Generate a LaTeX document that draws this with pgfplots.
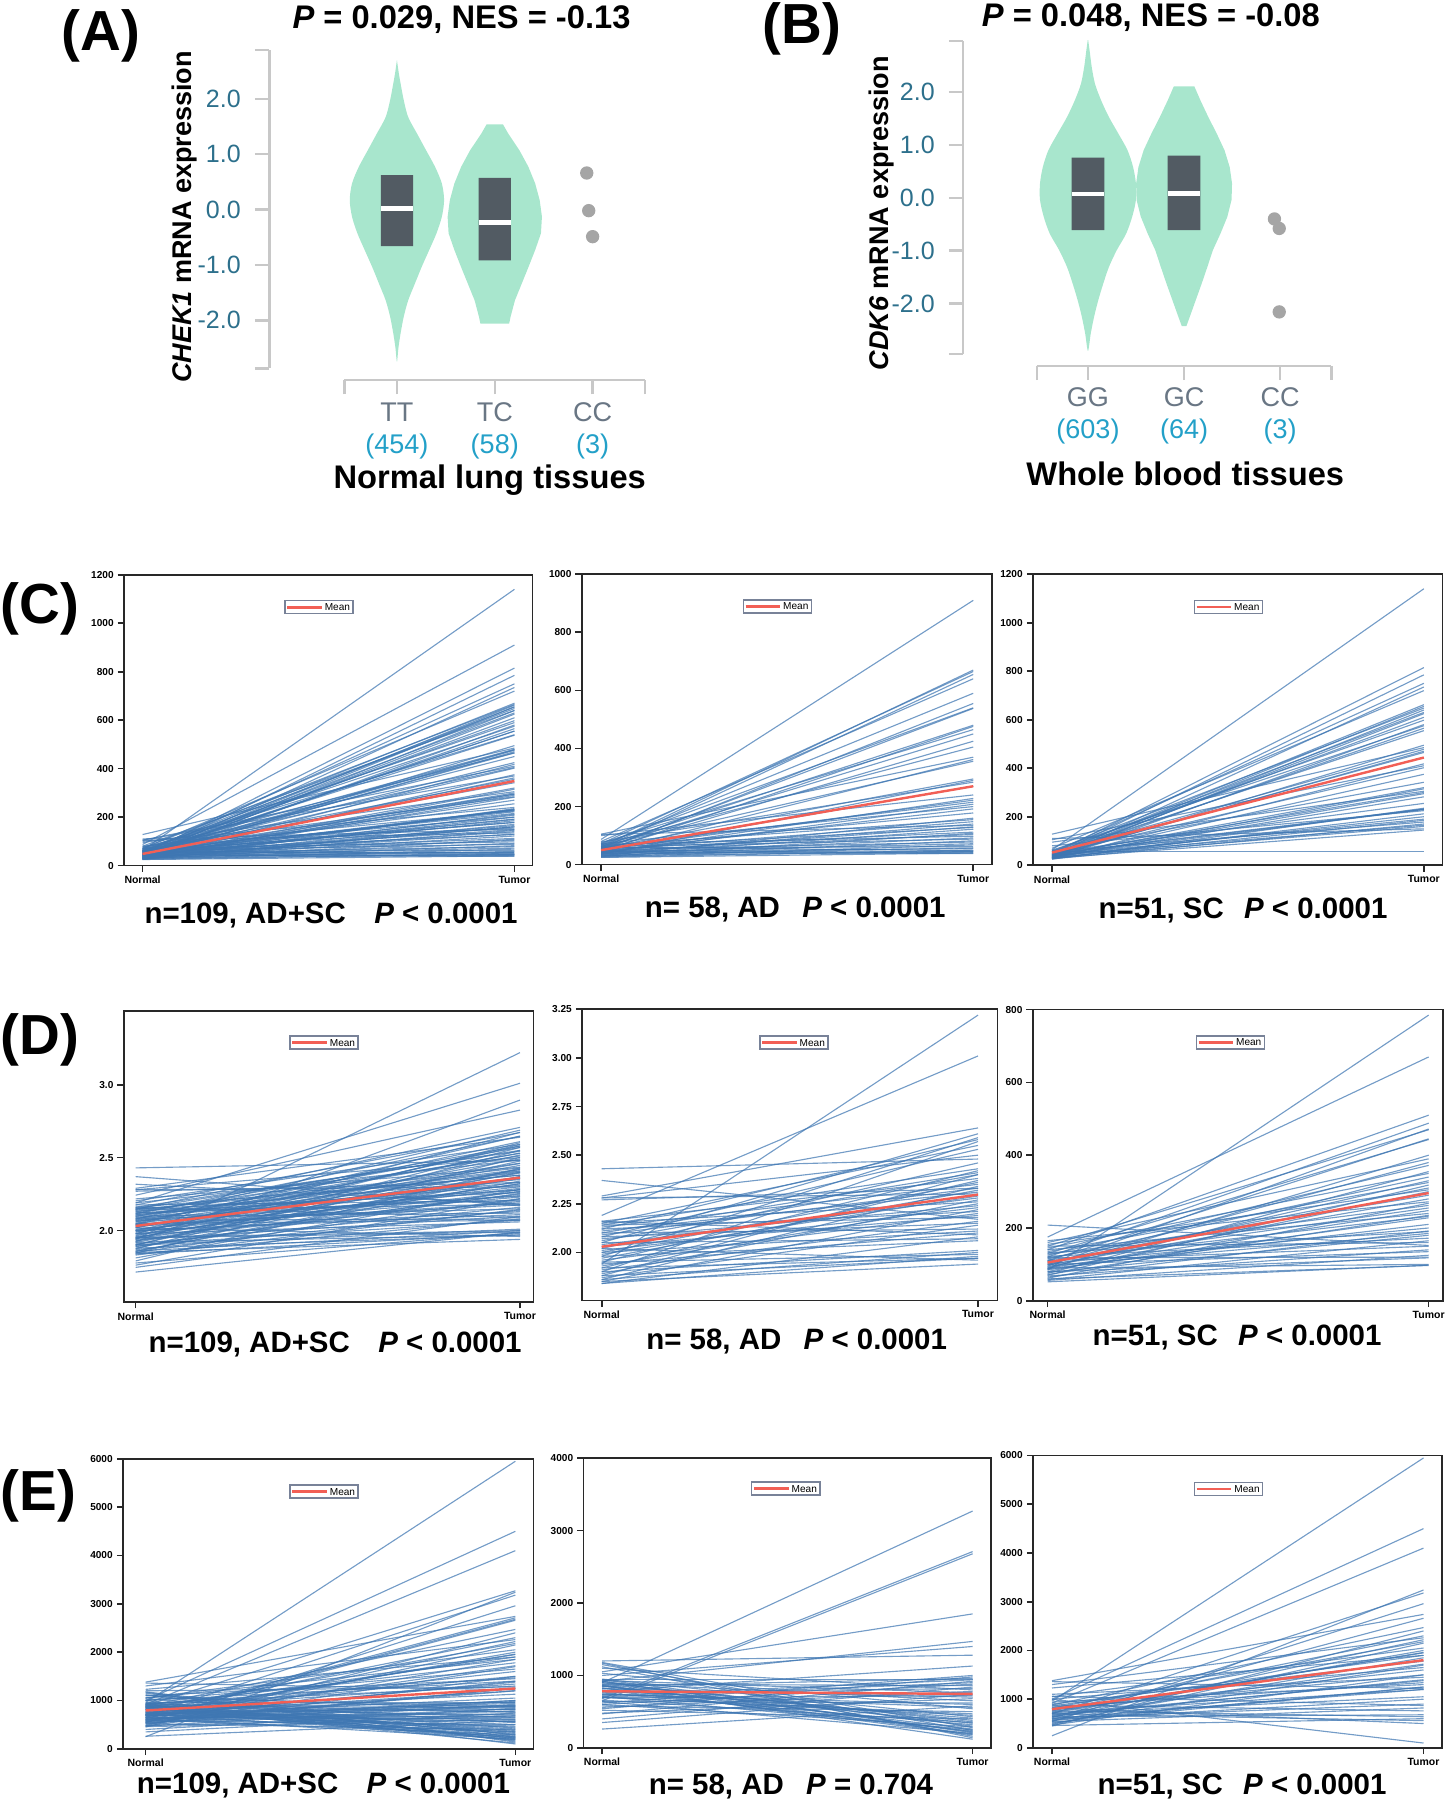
\documentclass[border=0pt]{standalone}
\usepackage{fontspec}
\setmainfont{Liberation Sans}
\usepackage{pgfplots}
\pgfplotsset{compat=1.18}
\usepackage{pgfplotstable}

\definecolor{mint}{RGB}{168,230,205}
\definecolor{boxc}{RGB}{82,91,99}
\definecolor{axisg}{RGB}{200,200,200}
\definecolor{tealc}{RGB}{45,112,140}
\definecolor{catg}{RGB}{105,118,132}
\definecolor{cntc}{RGB}{35,160,200}
\definecolor{dotg}{RGB}{165,165,165}
\definecolor{linec}{RGB}{62,118,178}
\definecolor{meanc}{RGB}{242,95,85}
\definecolor{frameg}{RGB}{40,40,40}
\definecolor{legg}{RGB}{120,130,152}

% ---------------- data: CHEK1 (C) ----------------
\pgfplotstableread{
n t
87 910
60 670
72 665
55 655
80 640
66 590
48 555
70 540
52 538
62 480
45 476
75 465
58 450
50 425
68 405
105 370
42 362
64 356
56 295
35 290
78 284
47 270
100 240
40 228
53 222
61 215
38 208
72 200
44 192
57 178
30 160
65 155
49 148
36 140
104 135
41 130
59 128
33 122
54 112
28 108
46 104
70 98
37 92
62 88
30 82
51 78
43 72
27 68
58 62
34 58
45 55
26 50
60 48
39 45
31 45
48 42
25 40
42 38
}\tabCad
\pgfplotstableread{
n t
63 1140
45 815
38 785
52 750
30 735
70 720
42 662
35 655
58 648
28 640
48 630
33 625
40 610
55 598
26 580
62 575
37 565
44 555
30 495
128 485
50 478
36 470
41 465
27 418
105 410
46 402
32 375
60 342
39 320
29 315
95 305
43 300
34 295
31 282
53 255
25 235
47 232
38 230
80 225
28 212
35 200
42 190
30 185
57 178
26 170
40 165
33 160
110 150
29 145
45 230
55 55
}\tabCsc
% ---------------- data: (D) ----------------
\pgfplotstableread{
n t
1.94 3.22
2.19 3.01
2.29 2.64
2.05 2.61
1.98 2.59
2.12 2.58
1.90 2.57
2.15 2.55
2.08 2.53
2.28 2.50
2.43 2.48
2.02 2.46
2.14 2.43
1.95 2.42
2.10 2.41
1.88 2.40
2.06 2.40
2.16 2.38
1.92 2.37
2.00 2.36
2.13 2.35
1.86 2.34
2.09 2.33
2.27 2.33
1.97 2.32
2.11 2.31
2.28 2.30
1.99 2.29
2.04 2.28
1.89 2.27
2.15 2.26
1.93 2.25
2.07 2.24
2.01 2.23
1.85 2.22
2.12 2.21
1.96 2.20
2.03 2.19
2.14 2.18
2.37 2.17
1.91 2.16
2.08 2.15
1.87 2.14
2.10 2.12
2.00 2.11
1.94 2.10
2.16 2.09
1.84 2.08
2.05 2.07
1.98 2.06
1.90 2.01
1.86 2.00
1.95 1.99
1.84 1.98
1.92 1.97
1.88 1.97
2.02 1.96
1.85 1.94
}\tabDad
\pgfplotstableread{
n t
84 785
175 670
140 510
120 488
95 472
150 470
110 445
130 443
88 400
160 390
100 380
125 372
75 355
145 350
115 340
92 330
135 325
70 318
105 310
155 305
80 300
118 290
98 280
165 272
62 268
128 262
108 255
90 248
140 240
72 235
112 232
85 228
88 210
102 200
65 192
132 190
95 185
78 180
122 172
58 165
150 160
208 152
110 150
68 140
100 135
56 125
118 120
80 118
90 100
52 98
60 97
}\tabDsc
% ---------------- data: (E) ----------------
\pgfplotstableread{
n t
900 3270
680 2710
650 2680
1050 1850
920 1470
1000 1400
1200 1280
780 1130
620 1000
540 980
850 960
950 950
720 940
470 920
700 900
600 880
880 860
400 840
760 820
1100 800
560 780
930 760
350 740
690 720
820 700
480 680
900 650
640 620
740 600
260 580
740 560
1030 540
580 500
700 470
700 450
950 430
820 410
520 400
880 380
900 360
660 350
850 340
760 320
940 300
600 290
1180 280
860 260
710 250
1150 240
800 230
920 220
920 210
640 200
870 190
830 180
1120 160
1170 140
860 120
}\tabEad
\pgfplotstableread{
n t
960 5950
1000 4500
920 4100
250 3240
700 3180
540 2960
1380 2740
620 2660
880 2470
450 2400
760 2300
1300 2260
590 2220
820 2180
480 2150
1050 2050
660 2000
720 1960
1230 1900
560 1850
900 1780
640 1720
780 1600
470 1500
1100 1450
680 1380
840 1340
520 1250
1360 1220
600 1200
740 1950
860 1900
500 1700
1000 1650
700 1050
580 1000
800 1500
650 1400
940 1300
560 1250
720 1200
610 900
1060 870
540 820
880 760
640 680
760 640
460 600
700 560
820 500
1000 100
}\tabEsc

\pgfplotsset{
  violin/.style={scale only axis, anchor=south west,
    axis x line*=bottom, axis y line*=left,
    axis line style={-, draw=axisg, line width=0.6pt},
    tick style={draw=axisg, line width=0.6pt},
    tick align=outside, major tick length=0.125cm,
    yticklabel style={font=\fontsize{6.2}{7}\selectfont, text=tealc},
    xticklabel style={font=\fontsize{6.7}{8}\selectfont, text=catg, align=center},
  },
  pair/.style={scale only axis, anchor=north west,
    axis line style={draw=frameg, line width=0.4pt},
    tick style={draw=frameg, line width=0.4pt},
    tick align=outside, tick pos=left, major tick length=0.055cm,
    xtick={0,1}, xticklabels={Normal,Tumor},
    scaled ticks=false,
    yticklabel style={font=\fontsize{2.5}{3}\selectfont\bfseries, inner sep=0.8pt},
    xticklabel style={font=\fontsize{2.6}{3}\selectfont\bfseries, inner sep=0.8pt},
    legend style={anchor=north west, draw=legg, line width=0.35pt, inner sep=0.3pt,
      font=\fontsize{2.5}{2.8}\selectfont, cells={anchor=west},
      nodes={inner sep=0.45pt, text depth=0pt}},
    legend image code/.code={\draw[##1] (0cm,0cm) -- (0.30cm,0cm);},
  },
  ln/.style={forget plot, no markers, draw=linec, draw opacity=0.72, line width=0.28pt},
  mn/.style={no markers, draw=meanc, line width=0.6pt},
}

\newcommand{\capfont}{\fontsize{7.3}{8.5}\selectfont\bfseries}

\begin{document}
\begin{tikzpicture}
\useasboundingbox (0,0) rectangle (12.60cm,-15.68cm);

% ---------------- panel labels and titles ----------------
\node[anchor=base west, font=\fontsize{14}{16}\selectfont\bfseries, inner sep=0pt] at (0.53cm,-0.436cm) {(A)};
\node[anchor=base west, font=\fontsize{14}{16}\selectfont\bfseries, inner sep=0pt] at (6.639cm,-0.38cm) {(B)};
\node[anchor=base west, font=\fontsize{14}{16}\selectfont\bfseries, inner sep=0pt] at (0cm,-5.43cm) {(C)};
\node[anchor=base west, font=\fontsize{14}{16}\selectfont\bfseries, inner sep=0pt] at (0cm,-9.19cm) {(D)};
\node[anchor=base west, font=\fontsize{14}{16}\selectfont\bfseries, inner sep=0pt] at (0cm,-13.16cm) {(E)};

\node[anchor=base, font=\fontsize{8.1}{9}\selectfont\bfseries, inner sep=0pt] at (4.02cm,-0.247cm) {\textit{P} = 0.029, NES = -0.13};
\node[anchor=base, font=\fontsize{8.1}{9}\selectfont\bfseries, inner sep=0pt] at (10.025cm,-0.227cm) {\textit{P} = 0.048, NES = -0.08};
\node[rotate=90, anchor=base, font=\fontsize{6.7}{8}\selectfont\bfseries, inner sep=0pt] at (1.67cm,-1.89cm) {\textit{CHEK1} mRNA expression};
\node[rotate=90, anchor=base, font=\fontsize{6.7}{8}\selectfont\bfseries, inner sep=0pt] at (7.74cm,-1.858cm) {\textit{CDK6} mRNA expression};
\node[anchor=base, font=\fontsize{8.1}{9}\selectfont\bfseries, inner sep=0pt] at (4.266cm,-4.255cm) {Normal lung tissues};
\node[anchor=base, font=\fontsize{8.1}{9}\selectfont\bfseries, inner sep=0pt] at (10.325cm,-4.225cm) {Whole blood tissues};

% ---------------- (A) violin ----------------
\begin{axis}[violin, at={(3.00cm,-3.21cm)}, width=2.62cm, height=2.774cm,
  xmin=-0.537, xmax=2.537, ymin=-2.87, ymax=2.88,
  x axis line style={yshift=-0.10cm}, xtick style={yshift=-0.10cm}, xticklabel style={yshift=-0.05cm},
  y axis line style={xshift=-0.654cm}, ytick style={xshift=-0.654cm}, yticklabel style={xshift=-0.654cm},
  xtick={-0.537,0,1,2,2.537},
  xticklabels={,{TT\\\textcolor{cntc}{(454)}},{TC\\\textcolor{cntc}{(58)}},{CC\\\textcolor{cntc}{(3)}},},
  ytick={-2.87,-2,-1,0,1,2,2.88}, yticklabels={,-2.0,-1.0,0.0,1.0,2.0,}]
\addplot[fill=mint, draw=none, smooth, tension=0.5] coordinates {
(0,2.70) (0.020,2.45) (0.037,2.28) (0.069,1.98) (0.115,1.67) (0.206,1.37) (0.298,1.07) (0.390,0.77) (0.459,0.47) (0.482,0.17) (0.459,-0.13) (0.404,-0.43) (0.330,-0.73) (0.252,-1.04) (0.183,-1.34) (0.115,-1.64) (0.069,-1.94) (0.037,-2.24) (0.015,-2.50) (0,-2.75)
(-0.015,-2.50) (-0.037,-2.24) (-0.069,-1.94) (-0.115,-1.64) (-0.183,-1.34) (-0.252,-1.04) (-0.330,-0.73) (-0.404,-0.43) (-0.459,-0.13) (-0.482,0.17) (-0.459,0.47) (-0.390,0.77) (-0.298,1.07) (-0.206,1.37) (-0.115,1.67) (-0.069,1.98) (-0.037,2.28) (-0.020,2.45) (0,2.70)};
\addplot[fill=mint, draw=none] coordinates {
(1.083,1.54) (1.138,1.37) (1.252,1.07) (1.344,0.77) (1.413,0.47) (1.459,0.17) (1.482,-0.13) (1.472,-0.43) (1.413,-0.73) (1.344,-1.04) (1.275,-1.34) (1.206,-1.64) (1.161,-1.94) (1.147,-2.06)
(0.853,-2.06) (0.839,-1.94) (0.794,-1.64) (0.725,-1.34) (0.656,-1.04) (0.587,-0.73) (0.528,-0.43) (0.518,-0.13) (0.541,0.17) (0.587,0.47) (0.656,0.77) (0.748,1.07) (0.862,1.37) (0.917,1.54) (1.083,1.54)};
\addplot[fill=boxc, draw=none] coordinates {(-0.165,-0.66) (0.165,-0.66) (0.165,0.62) (-0.165,0.62) (-0.165,-0.66)};
\addplot[fill=boxc, draw=none] coordinates {(0.835,-0.92) (1.165,-0.92) (1.165,0.57) (0.835,0.57) (0.835,-0.92)};
\addplot[white, line width=1.1pt] coordinates {(-0.165,0.02) (0.165,0.02)};
\addplot[white, line width=1.1pt] coordinates {(0.835,-0.23) (1.165,-0.23)};
\addplot[only marks, mark=*, mark size=1.45pt, color=dotg] coordinates {(1.94,0.66) (1.96,-0.02) (2.0,-0.49)};
\end{axis}

% ---------------- (B) violin ----------------
\begin{axis}[violin, at={(9.031cm,-3.085cm)}, width=2.567cm, height=2.728cm,
  xmin=-0.533, xmax=2.533, ymin=-2.96, ymax=2.97,
  x axis line style={yshift=-0.102cm}, xtick style={yshift=-0.102cm}, xticklabel style={yshift=-0.04cm},
  y axis line style={xshift=-0.64cm}, ytick style={xshift=-0.64cm}, yticklabel style={xshift=-0.64cm},
  xtick={-0.533,0,1,2,2.533},
  xticklabels={,{GG\\\textcolor{cntc}{(603)}},{GC\\\textcolor{cntc}{(64)}},{CC\\\textcolor{cntc}{(3)}},},
  ytick={-2.96,-2,-1,0,1,2,2.97}, yticklabels={,-2.0,-1.0,0.0,1.0,2.0,}]
\addplot[fill=mint, draw=none, smooth, tension=0.5] coordinates {
(0,3.02) (0.020,2.75) (0.039,2.48) (0.073,2.16) (0.136,1.85) (0.218,1.53) (0.315,1.22) (0.412,0.90) (0.470,0.58) (0.499,0.27) (0.499,-0.04) (0.460,-0.36) (0.397,-0.68) (0.300,-0.99) (0.218,-1.31) (0.160,-1.62) (0.107,-1.94) (0.063,-2.26) (0.029,-2.57) (0,-2.90)
(-0.029,-2.57) (-0.063,-2.26) (-0.107,-1.94) (-0.160,-1.62) (-0.218,-1.31) (-0.300,-0.99) (-0.397,-0.68) (-0.460,-0.36) (-0.499,-0.04) (-0.499,0.27) (-0.470,0.58) (-0.412,0.90) (-0.315,1.22) (-0.218,1.53) (-0.136,1.85) (-0.073,2.16) (-0.039,2.48) (-0.020,2.75) (0,3.02)};
\addplot[fill=mint, draw=none] coordinates {
(1.107,2.11) (1.169,1.85) (1.252,1.53) (1.339,1.22) (1.421,0.90) (1.475,0.58) (1.499,0.27) (1.494,-0.04) (1.450,-0.36) (1.378,-0.68) (1.300,-0.99) (1.242,-1.31) (1.184,-1.62) (1.121,-1.94) (1.058,-2.26) (1.024,-2.43)
(0.976,-2.43) (0.942,-2.26) (0.879,-1.94) (0.816,-1.62) (0.758,-1.31) (0.700,-0.99) (0.622,-0.68) (0.550,-0.36) (0.506,-0.04) (0.501,0.27) (0.525,0.58) (0.579,0.90) (0.661,1.22) (0.748,1.53) (0.831,1.85) (0.893,2.11) (1.107,2.11)};
\addplot[fill=boxc, draw=none] coordinates {(-0.17,-0.61) (0.17,-0.61) (0.17,0.76) (-0.17,0.76) (-0.17,-0.61)};
\addplot[fill=boxc, draw=none] coordinates {(0.83,-0.61) (1.17,-0.61) (1.17,0.80) (0.83,0.80) (0.83,-0.61)};
\addplot[white, line width=1.1pt] coordinates {(-0.17,0.07) (0.17,0.07)};
\addplot[white, line width=1.1pt] coordinates {(0.83,0.08) (1.17,0.08)};
\addplot[only marks, mark=*, mark size=1.45pt, color=dotg] coordinates {(1.94,-0.40) (1.99,-0.58) (1.99,-2.16)};
\end{axis}

% ---------------- row C ----------------
\begin{axis}[pair, at={(1.08cm,-5.007cm)}, width=3.56cm, height=2.533cm,
  xmin=-0.050, xmax=1.049, ymin=0, ymax=1200,
  ytick={0,200,400,600,800,1000,1200}, yticklabels={0,200,400,600,800,1000,1200},
  legend style={at={(0.392,0.913)}}]
\addplot[ln, quiver={u=1, v=\thisrow{t}-\thisrow{n}}] table[x expr=0, y=n] {\tabCad};
\addplot[ln, quiver={u=1, v=\thisrow{t}-\thisrow{n}}] table[x expr=0, y=n] {\tabCsc};
\addplot[mn] coordinates {(0,48) (1,349)};
\addlegendentry{Mean}
\end{axis}
\node[anchor=base, font=\capfont, inner sep=0pt] at (2.884cm,-8.046cm) {n=109, AD+SC\hspace{5pt} \textit{P} < 0.0001};

\begin{axis}[pair, at={(5.068cm,-5.002cm)}, width=3.572cm, height=2.530cm,
  xmin=-0.052, xmax=1.050, ymin=0, ymax=1000,
  ytick={0,200,400,600,800,1000}, yticklabels={0,200,400,600,800,1000},
  legend style={at={(0.392,0.914)}}]
\addplot[ln, quiver={u=1, v=\thisrow{t}-\thisrow{n}}] table[x expr=0, y=n] {\tabCad};
\addplot[mn] coordinates {(0,50) (1,270)};
\addlegendentry{Mean}
\end{axis}
\node[anchor=base, font=\capfont, inner sep=0pt] at (6.928cm,-7.988cm) {n= 58, AD\hspace{3.5pt} \textit{P} < 0.0001};

\begin{axis}[pair, at={(8.999cm,-5.002cm)}, width=3.566cm, height=2.535cm,
  xmin=-0.051, xmax=1.050, ymin=0, ymax=1200,
  ytick={0,200,400,600,800,1000,1200}, yticklabels={0,200,400,600,800,1000,1200},
  legend style={at={(0.392,0.913)}}]
\addplot[ln, quiver={u=1, v=\thisrow{t}-\thisrow{n}}] table[x expr=0, y=n] {\tabCsc};
\addplot[mn] coordinates {(0,52) (1,444)};
\addlegendentry{Mean}
\end{axis}
\node[anchor=base, font=\capfont, inner sep=0pt] at (10.828cm,-8.002cm) {n=51, SC\hspace{3pt} \textit{P} < 0.0001};

% ---------------- row D ----------------
\begin{axis}[pair, at={(1.078cm,-8.807cm)}, width=3.569cm, height=2.536cm,
  xmin=-0.031, xmax=1.035, ymin=1.51, ymax=3.505,
  ytick={2.0,2.5,3.0}, yticklabels={2.0,2.5,3.0},
  legend style={at={(0.404,0.916)}}]
\addplot[ln, quiver={u=1, v=\thisrow{t}-\thisrow{n}}] table[x expr=0, y=n] {\tabDad};
\addplot[ln, quiver={u=1, v={log10(\thisrow{t})-log10(\thisrow{n})}}] table[x expr=0, y expr={log10(\thisrow{n})}] {\tabDsc};
\addplot[mn] coordinates {(0,2.032) (1,2.363)};
\addlegendentry{Mean}
\end{axis}
\node[anchor=base, font=\capfont, inner sep=0pt] at (2.919cm,-11.778cm) {n=109, AD+SC\hspace{5pt} \textit{P} < 0.0001};

\begin{axis}[pair, at={(5.071cm,-8.792cm)}, width=3.619cm, height=2.536cm,
  xmin=-0.052, xmax=1.052, ymin=1.753, ymax=3.25,
  ytick={2,2.25,2.5,2.75,3,3.25}, yticklabels={2.00,2.25,2.50,2.75,3.00,3.25},
  legend style={at={(0.426,0.91)}}]
\addplot[ln, quiver={u=1, v=\thisrow{t}-\thisrow{n}}] table[x expr=0, y=n] {\tabDad};
\addplot[mn] coordinates {(0,2.029) (1,2.297)};
\addlegendentry{Mean}
\end{axis}
\node[anchor=base, font=\capfont, inner sep=0pt] at (6.94cm,-11.755cm) {n= 58, AD\hspace{3.5pt} \textit{P} < 0.0001};

\begin{axis}[pair, at={(8.996cm,-8.795cm)}, width=3.572cm, height=2.536cm,
  xmin=-0.039, xmax=1.037, ymin=0, ymax=800,
  ytick={0,200,400,600,800}, yticklabels={0,200,400,600,800},
  legend style={at={(0.397,0.912)}}]
\addplot[ln, quiver={u=1, v=\thisrow{t}-\thisrow{n}}] table[x expr=0, y=n] {\tabDsc};
\addplot[mn] coordinates {(0,105) (1,296)};
\addlegendentry{Mean}
\end{axis}
\node[anchor=base, font=\capfont, inner sep=0pt] at (10.776cm,-11.72cm) {n=51, SC\hspace{3pt} \textit{P} < 0.0001};

% ---------------- row E ----------------
\begin{axis}[pair, at={(1.072cm,-12.708cm)}, width=3.575cm, height=2.526cm,
  xmin=-0.061, xmax=1.049, ymin=0, ymax=6000,
  ytick={0,1000,2000,3000,4000,5000,6000}, yticklabels={0,1000,2000,3000,4000,5000,6000},
  legend style={at={(0.405,0.912)}}]
\addplot[ln, quiver={u=1, v=\thisrow{t}-\thisrow{n}}] table[x expr=0, y=n] {\tabEad};
\addplot[ln, quiver={u=1, v=\thisrow{t}-\thisrow{n}}] table[x expr=0, y=n] {\tabEsc};
\addplot[mn] coordinates {(0,793) (1,1248)};
\addlegendentry{Mean}
\end{axis}
\node[anchor=base, font=\capfont, inner sep=0pt] at (2.818cm,-15.62cm) {n=109, AD+SC\hspace{5pt} \textit{P} < 0.0001};

\begin{axis}[pair, at={(5.083cm,-12.702cm)}, width=3.551cm, height=2.524cm,
  xmin=-0.050, xmax=1.050, ymin=0, ymax=4000,
  ytick={0,1000,2000,3000,4000}, yticklabels={0,1000,2000,3000,4000},
  legend style={at={(0.411,0.92)}}]
\addplot[ln, quiver={u=1, v=\thisrow{t}-\thisrow{n}}] table[x expr=0, y=n] {\tabEad};
\addplot[mn] coordinates {(0,782) (1,745)};
\addlegendentry{Mean}
\end{axis}
\node[anchor=base, font=\capfont, inner sep=0pt] at (6.89cm,-15.633cm) {n= 58, AD\hspace{3.5pt} \textit{P} = 0.704};

\begin{axis}[pair, at={(8.999cm,-12.679cm)}, width=3.563cm, height=2.547cm,
  xmin=-0.051, xmax=1.050, ymin=0, ymax=6000,
  ytick={0,1000,2000,3000,4000,5000,6000}, yticklabels={0,1000,2000,3000,4000,5000,6000},
  legend style={at={(0.393,0.911)}}]
\addplot[ln, quiver={u=1, v=\thisrow{t}-\thisrow{n}}] table[x expr=0, y=n] {\tabEsc};
\addplot[mn] coordinates {(0,795) (1,1801)};
\addlegendentry{Mean}
\end{axis}
\node[anchor=base, font=\capfont, inner sep=0pt] at (10.82cm,-15.633cm) {n=51, SC\hspace{3pt} \textit{P} < 0.0001};

\end{tikzpicture}
\end{document}
